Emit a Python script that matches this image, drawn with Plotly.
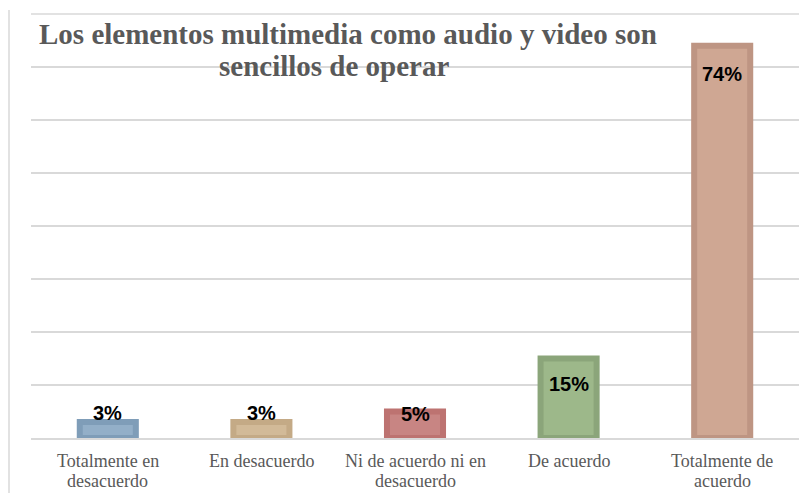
import plotly.graph_objects as go

# Survey responses: share of respondents per agreement level
categories = [
    "Totalmente en<br>desacuerdo",
    "En desacuerdo",
    "Ni de acuerdo ni en<br>desacuerdo",
    "De acuerdo",
    "Totalmente de<br>acuerdo",
]
values = [3, 3, 5, 15, 74]
value_labels = ["3%", "3%", "5%", "15%", "74%"]

fill_colors = ["#93AFC8", "#D2BA98", "#C88583", "#9DB88A", "#CFA793"]
edge_colors = ["#7F9DB8", "#C4AA86", "#BD7371", "#8BA57A", "#BE9583"]

title_lines = ["Los elementos multimedia como audio y video son", "sencillos de operar"]

Y_MAX = 80

W, H = 806, 493
M_L, M_R, M_T, M_B = 31, 7, 14, 55
PW, PH = W - M_L - M_R, H - M_T - M_B


def px_x(x):
    return (x - M_L) / PW


def px_y(y):
    return (H - M_B - y) / PH


fig = go.Figure()
fig.add_trace(go.Bar(
    x=categories,
    y=values,
    marker=dict(color=fill_colors, line=dict(color=edge_colors, width=6)),
    width=0.365,
    hoverinfo="skip",
))

# value labels: above the small bars, inside the top of the tall ones
label_anchor = ["bottom", "bottom", "bottom", "top", "top"]
label_shift = [-4, -4, -15, -12, -15]
for cat, v, txt, anc, sh in zip(categories, values, value_labels, label_anchor, label_shift):
    fig.add_annotation(
        x=cat, y=v, text=f"<b>{txt}</b>", showarrow=False,
        yanchor=anc, yshift=sh,
        font=dict(family="Liberation Sans, Arial, sans-serif", size=20, color="#000000"),
    )

# category labels under the axis, set line by line for tight leading
cat_font = dict(family="Liberation Serif, Times New Roman, serif", size=18, color="#595959")
line_centers = [461, 481]
for cat in categories:
    for line, cy in zip(cat.split("<br>"), line_centers):
        fig.add_annotation(
            x=cat, yref="paper", y=px_y(cy),
            xanchor="center", yanchor="middle",
            text=line, showarrow=False, font=cat_font,
        )

# two-line chart title
title_pos = [(348, 34), (334, 66)]
for line, (cx, cy) in zip(title_lines, title_pos):
    fig.add_annotation(
        xref="paper", yref="paper", x=px_x(cx), y=px_y(cy),
        xanchor="center", yanchor="middle",
        text=f"<b>{line}</b>", showarrow=False,
        font=dict(family="Liberation Serif, Times New Roman, serif", size=29, color="#595959"),
    )

# top gridline along the upper edge of the plot area (unclipped)
fig.add_shape(
    type="line", xref="paper", yref="paper", x0=0, x1=1, y0=1, y1=1,
    line=dict(color="#D9D9D9", width=1.5), layer="below",
)

# outer chart frame edge on the left
fig.add_shape(
    type="line", xref="paper", yref="paper",
    x0=px_x(9), x1=px_x(9), y0=px_y(H + 5), y1=px_y(10),
    line=dict(color="#D9D9D9", width=1.5),
)

fig.update_layout(
    width=W, height=H,
    margin=dict(l=M_L, r=M_R, t=M_T, b=M_B, autoexpand=False),
    paper_bgcolor="#FFFFFF",
    plot_bgcolor="#FFFFFF",
    showlegend=False,
    bargap=0.6,
)
fig.update_xaxes(
    showline=True, linecolor="#D9D9D9", linewidth=1.5,
    ticks="", showgrid=False, showticklabels=False, automargin=False,
)
fig.update_yaxes(
    range=[0, Y_MAX], dtick=10, showticklabels=False,
    showgrid=True, gridcolor="#D9D9D9", gridwidth=1.5,
    zeroline=False, ticks="", automargin=False,
)

fig.write_html("out.html")
